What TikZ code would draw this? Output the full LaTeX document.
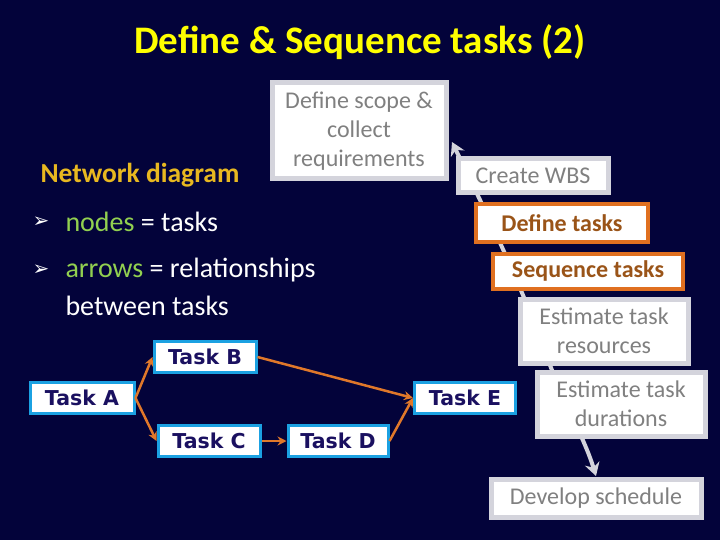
\documentclass[tikz,border=0pt]{standalone}
\usepackage{fontspec}
\setmainfont{Carlito}
\newfontfamily\dvs{DejaVu Sans}
\usetikzlibrary{arrows.meta}
\definecolor{bg}{HTML}{03033A}
\definecolor{ttl}{HTML}{FFFF00}
\definecolor{gold}{HTML}{E8B820}
\definecolor{grn}{HTML}{92D050}
\definecolor{gbord}{HTML}{D4D4DC}
\definecolor{gtxt}{HTML}{808080}
\definecolor{obord}{HTML}{E07020}
\definecolor{otxt}{HTML}{9A5418}
\definecolor{cy}{HTML}{1BA1E2}
\definecolor{navy}{HTML}{1A1060}
\definecolor{oarr}{HTML}{E0782A}
\begin{document}
\begin{tikzpicture}[x=1pt,y=-1pt,
 gbox/.style={draw=gbord,line width=5pt,fill=white,text=gtxt,align=center,font=\fontsize{24}{29}\selectfont,inner sep=0pt},
 obox/.style={draw=obord,line width=4pt,fill=white,text=otxt,align=center,font=\fontsize{24}{28}\bfseries\selectfont,inner sep=0pt},
 tbox/.style={draw=cy,line width=3pt,fill=white,text=navy,font=\dvs\fontsize{20.5}{22}\bfseries\selectfont,inner sep=0pt,minimum height=31pt},
 oa/.style={draw=oarr,line width=2.5pt,-{Stealth[length=9pt,width=9pt]}},
 body/.style={anchor=west,text=white,font=\fontsize{28}{32}\selectfont}]
\fill[bg] (0,0) rectangle (720,540);
\useasboundingbox (0,0) rectangle (720,540);
\node[text=ttl,font=\fontsize{39}{44}\bfseries\selectfont] (title) at (360,42) {Define \& Sequence tasks (2)};
% gray flow line
\coordinate (top) at (452,142);
\coordinate (bot) at (596,476);
\draw[gbord,line width=4pt,{Stealth[length=13pt,width=15pt]}-{Stealth[length=13pt,width=15pt]}] (top) .. controls (480,200) and (520,280) .. (548,360) .. controls (565,405) and (585,440) .. (bot);
\node[gbox,minimum width=174pt,minimum height=96pt] (scope) at (359,131) {Define scope \&\\collect\\requirements};
\node[gbox,minimum width=150pt,minimum height=34pt] (wbs) at (533,176) {Create WBS};
\node[obox,minimum width=172pt,minimum height=37pt] (def) at (562,223) {Define tasks};
\node[obox,minimum width=190pt,minimum height=35pt] (seq) at (588,271) {Sequence tasks};
\node[gbox,minimum width=168pt,minimum height=64pt] (res) at (604,331) {Estimate task\\resources};
\node[gbox,minimum width=168pt,minimum height=64pt] (dur) at (621,404) {Estimate task\\durations};
\node[gbox,minimum width=210pt,minimum height=38pt] (sched) at (596,498) {Develop schedule};
% text
\node[text=gold,font=\fontsize{27.5}{30}\bfseries\selectfont] (nd) at (140,175) {Network diagram};
\node[text=white,font=\dvs\fontsize{20}{22}\selectfont] (b1) at (41,222) {➢};
\node[text=white,font=\dvs\fontsize{20}{22}\selectfont] (b2) at (41,270) {➢};
\node[body] (t1) at (62,222) {\textcolor{grn}{nodes} = tasks};
\node[body] (t2) at (62,270) {\textcolor{grn}{arrows} = relationships};
\node[body] (t3) at (62,306) {between tasks};
% tasks
\node[tbox,minimum width=104pt] (A) at (82,398) {Task A};
\node[tbox,minimum width=102pt] (B) at (205,357) {Task B};
\node[tbox,minimum width=102pt] (C) at (209,441) {Task C};
\node[tbox,minimum width=100pt] (D) at (338,441) {Task D};
\node[tbox,minimum width=101pt] (E) at (465,398) {Task E};
\draw[oa] (A.east) -- (B.west);
\draw[oa] (A.east) -- (C.west);
\draw[oa] (B.east) -- (E.west);
\draw[oa] (C.east) -- (D.west);
\draw[oa] (D.east) -- (E.west);
\end{tikzpicture}
\end{document}
